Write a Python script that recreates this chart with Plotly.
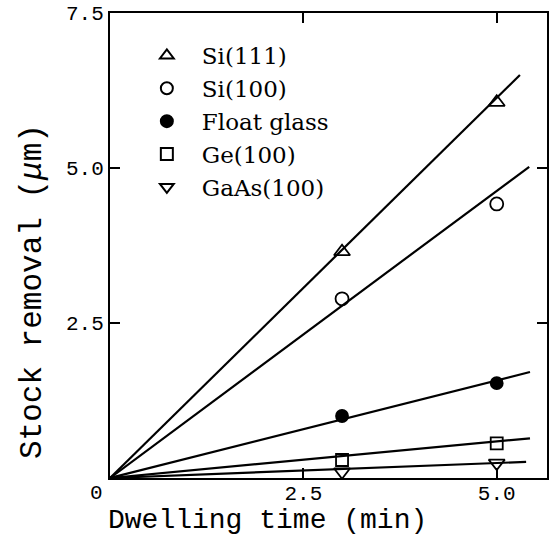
import plotly.graph_objects as go

# ---- data ----
dwell_time = [3.0, 5.0]
materials = ["Si(111)", "Si(100)", "Float glass", "Ge(100)", "GaAs(100)"]
si111 = [3.65, 6.06]
si100 = [2.89, 4.42]
float_glass = [1.00, 1.53]
ge100 = [0.29, 0.56]
gaas100 = [0.10, 0.24]
# fitted straight lines through the origin: end points
line_x_end = [5.30, 5.42, 5.43, 5.43, 5.38]
line_y_end = [6.50, 5.02, 1.71, 0.64, 0.26]

x_ticks = [0, 2.5, 5.0]
x_ticktext = ["", "2.5", "5.0"]
y_ticks = [0, 2.5, 5.0, 7.5]
y_ticktext = ["", "2.5", "5.0", "7.5"]

series = [si111, si100, float_glass, ge100, gaas100]
symbols = ["triangle-up-open", "circle-open", "circle", "square-open", "triangle-down-open"]
sizes = [14, 13, 12, 12, 14]

fig = go.Figure()
for i, name in enumerate(materials):
    fig.add_trace(go.Scatter(
        x=[0, line_x_end[i]], y=[0, line_y_end[i]], mode="lines",
        line=dict(color="black", width=2.2), showlegend=False, hoverinfo="skip"))
for i, name in enumerate(materials):
    fig.add_trace(go.Scatter(
        x=dwell_time, y=series[i], mode="markers", name=name,
        marker=dict(symbol=symbols[i], size=sizes[i], color="black",
                    line=dict(color="black", width=1.8))))

fig.update_layout(
    width=550, height=546,
    margin=dict(l=110, r=1, t=13, b=68),
    paper_bgcolor="white", plot_bgcolor="white",
    showlegend=True,
    legend=dict(x=0.05, y=0.955, xanchor="left", yanchor="top",
                bgcolor="rgba(0,0,0,0)", itemsizing="constant", itemwidth=60,
                font=dict(family="DejaVu Serif", size=23, color="black"),
                tracegroupgap=0),
    font=dict(family="Liberation Mono", color="black"),
)
fig.update_xaxes(
    range=[0, 5.65], tickvals=x_ticks, ticktext=x_ticktext,
    ticks="inside", ticklen=10, tickwidth=1.5, tickcolor="black",
    showline=True, linecolor="black", linewidth=2, mirror="ticks",
    showgrid=False, zeroline=False, ticklabelstandoff=-5,
    tickfont=dict(family="Liberation Mono", size=21, color="black"),
)
fig.update_yaxes(
    range=[0, 7.5], tickvals=y_ticks, ticktext=y_ticktext,
    ticks="inside", ticklen=10, tickwidth=1.5, tickcolor="black",
    showline=True, linecolor="black", linewidth=2, mirror="ticks",
    showgrid=False, zeroline=False, ticklabeloverflow="allow",
    tickfont=dict(family="Liberation Mono", size=21, color="black"),
)
fig.add_annotation(text="0", x=0, y=0, xref="x", yref="y", showarrow=False,
                   xshift=-14, yshift=-15,
                   font=dict(family="Liberation Mono", size=21, color="black"))
fig.add_annotation(text="Dwelling time (min)", x=0.36, y=0, xref="paper", yref="paper",
                   xanchor="center", yanchor="middle", yshift=-42, showarrow=False,
                   font=dict(family="Liberation Mono", size=28, color="black"))
fig.add_annotation(text="Stock removal (<i>μ</i>m)", x=0, y=0.40, xref="paper", yref="paper",
                   xanchor="center", yanchor="middle", xshift=-78, textangle=-90,
                   showarrow=False,
                   font=dict(family="Liberation Mono", size=31, color="black"))

# remove the browser's default 8px page margin so the figure fills the window
fig.write_html("out.html", config={"displayModeBar": False},
               post_script="document.body.style.margin='0';")
